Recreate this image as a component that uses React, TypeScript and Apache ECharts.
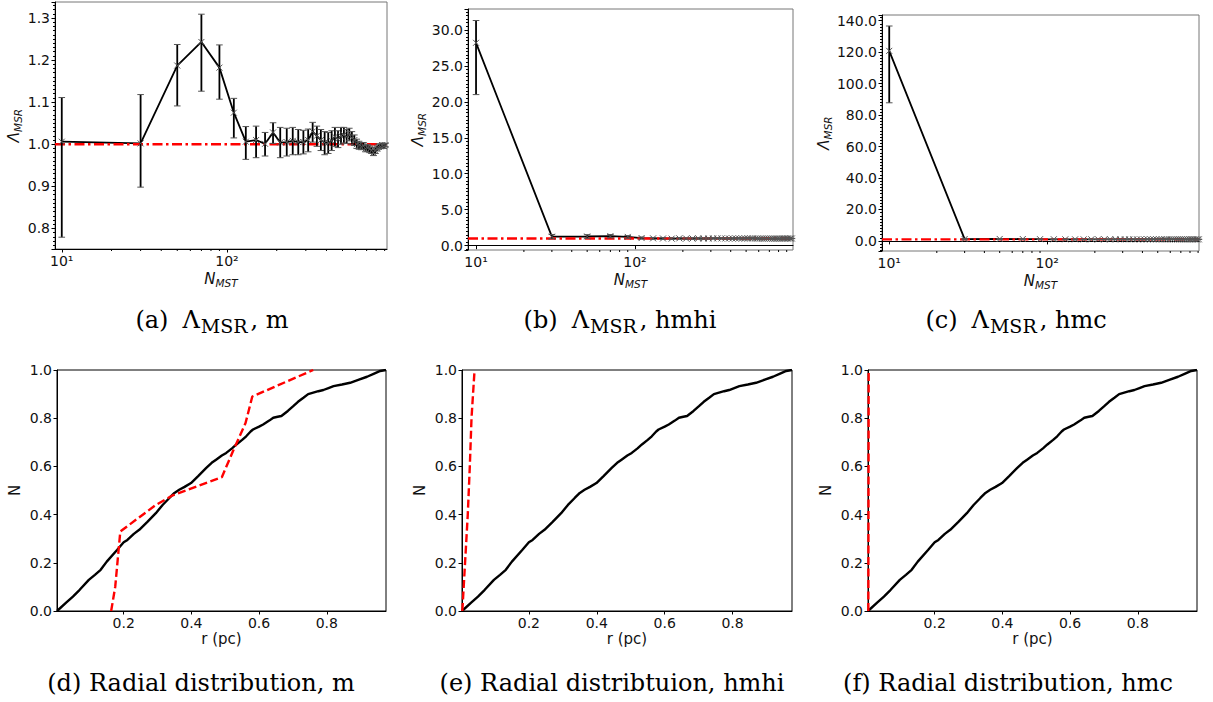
import React, { useEffect, useRef } from 'react';
import * as echarts from 'echarts';

// ---------- data: top row, Lambda_MSR vs N_MST ----------
const N_A = [10, 30, 50, 70, 90, 110, 130, 150, 170, 190, 210, 230, 250, 270, 290, 310, 330, 350, 370, 390, 410, 430, 450, 470, 490, 510, 530, 550, 570, 590, 610, 630, 650, 670, 690, 710, 730, 750, 770, 790, 810, 830, 850, 870, 890, 910];
const LAMBDA_A = [1.006, 1.002, 1.187, 1.243, 1.182, 1.075, 1.006, 1.010, 1.001, 1.028, 1.004, 1.005, 1.008, 1.005, 1.005, 1.010, 1.030, 1.020, 1.010, 1.004, 1.003, 1.008, 1.018, 1.012, 1.020, 1.022, 1.018, 1.024, 1.015, 1.010, 1.000, 0.997, 0.995, 0.996, 0.990, 0.991, 0.988, 0.985, 0.980, 0.985, 0.990, 0.994, 0.995, 0.998, 0.995, 0.998];
const LO_A = [0.779, 0.898, 1.091, 1.126, 1.107, 1.015, 0.964, 0.968, 0.972, 1.002, 0.968, 0.972, 0.975, 0.975, 0.977, 0.982, 1.005, 0.995, 0.985, 0.975, 0.978, 0.985, 0.995, 0.992, 1.000, 1.003, 1.002, 1.008, 1.000, 0.997, 0.990, 0.988, 0.987, 0.988, 0.982, 0.983, 0.980, 0.978, 0.973, 0.978, 0.984, 0.988, 0.990, 0.993, 0.990, 0.994];
const HI_A = [1.111, 1.118, 1.237, 1.309, 1.236, 1.109, 1.042, 1.043, 1.028, 1.051, 1.040, 1.038, 1.040, 1.035, 1.033, 1.036, 1.052, 1.043, 1.035, 1.030, 1.028, 1.032, 1.040, 1.032, 1.040, 1.040, 1.035, 1.038, 1.030, 1.022, 1.012, 1.007, 1.004, 1.004, 0.998, 0.999, 0.996, 0.993, 0.987, 0.992, 0.996, 1.000, 1.001, 1.003, 1.000, 1.002];

const N_B = [10, 30, 50, 70, 90, 110, 130, 150, 170, 190, 210, 230, 250, 270, 290, 310, 330, 350, 370, 390, 410, 430, 450, 470, 490, 510, 530, 550, 570, 590, 610, 630, 650, 670, 690, 710, 730, 750, 770, 790, 810, 830, 850, 870, 890, 910, 930, 950, 970];
const LAMBDA_B = [28.2, 1.25, 1.28, 1.33, 1.22, 1.06, 1.02, 1.0, 0.98, 1.02, 0.99, 1.0, 1.01, 0.99, 1.0, 1.01, 1.02, 1.01, 1.0, 1.0, 1.0, 1.01, 1.01, 1.0, 1.01, 1.02, 1.01, 1.01, 1.0, 1.0, 0.99, 0.99, 0.99, 1.0, 0.99, 0.99, 0.98, 0.98, 0.98, 0.99, 0.99, 0.99, 1.0, 1.0, 1.0, 1.0, 1.0, 1.0, 1.0];
const ERR_DOWN_B = [7.2, 0.30, 0.25, 0.22, 0.18, 0.15, 0.12, 0.11, 0.10, 0.10, 0.09, 0.09, 0.08, 0.08, 0.08, 0.07, 0.07, 0.07, 0.06, 0.06, 0.06, 0.06, 0.05, 0.05, 0.05, 0.05, 0.05, 0.04, 0.04, 0.04, 0.04, 0.04, 0.03, 0.03, 0.03, 0.03, 0.03, 0.03, 0.03, 0.02, 0.02, 0.02, 0.02, 0.02, 0.02, 0.02, 0.02, 0.02, 0.02];
const ERR_UP_B = [3.1, 0.30, 0.25, 0.22, 0.18, 0.15, 0.12, 0.11, 0.10, 0.10, 0.09, 0.09, 0.08, 0.08, 0.08, 0.07, 0.07, 0.07, 0.06, 0.06, 0.06, 0.06, 0.05, 0.05, 0.05, 0.05, 0.05, 0.04, 0.04, 0.04, 0.04, 0.04, 0.03, 0.03, 0.03, 0.03, 0.03, 0.03, 0.03, 0.02, 0.02, 0.02, 0.02, 0.02, 0.02, 0.02, 0.02, 0.02, 0.02];

const N_C = [10, 30, 50, 70, 90, 110, 130, 150, 170, 190, 210, 230, 250, 270, 290, 310, 330, 350, 370, 390, 410, 430, 450, 470, 490, 510, 530, 550, 570, 590, 610, 630, 650, 670, 690, 710, 730, 750, 770, 790, 810, 830, 850, 870, 890, 910];
const LAMBDA_C = [120.8, 1.2, 1.25, 1.2, 1.1, 1.05, 1.02, 1.0, 0.99, 1.02, 1.0, 1.0, 1.01, 1.0, 1.0, 1.01, 1.02, 1.01, 1.0, 1.0, 1.0, 1.01, 1.01, 1.0, 1.01, 1.01, 1.01, 1.01, 1.0, 1.0, 0.99, 0.99, 0.99, 1.0, 0.99, 0.99, 0.98, 0.98, 0.98, 0.99, 0.99, 0.99, 1.0, 1.0, 1.0, 1.0];
const ERR_DOWN_C = [33.0, 0.40, 0.30, 0.25, 0.20, 0.15, 0.12, 0.11, 0.10, 0.10, 0.09, 0.09, 0.08, 0.08, 0.08, 0.07, 0.07, 0.07, 0.06, 0.06, 0.06, 0.06, 0.05, 0.05, 0.05, 0.05, 0.05, 0.04, 0.04, 0.04, 0.04, 0.04, 0.03, 0.03, 0.03, 0.03, 0.03, 0.03, 0.03, 0.02, 0.02, 0.02, 0.02, 0.02, 0.02, 0.02];
const ERR_UP_C = [15.8, 0.40, 0.30, 0.25, 0.20, 0.15, 0.12, 0.11, 0.10, 0.10, 0.09, 0.09, 0.08, 0.08, 0.08, 0.07, 0.07, 0.07, 0.06, 0.06, 0.06, 0.06, 0.05, 0.05, 0.05, 0.05, 0.05, 0.04, 0.04, 0.04, 0.04, 0.04, 0.03, 0.03, 0.03, 0.03, 0.03, 0.03, 0.03, 0.02, 0.02, 0.02, 0.02, 0.02, 0.02, 0.02];

const LAMBDA_REF = 1.0;
const LOG_MINOR_TICKS = [20, 30, 40, 50, 60, 70, 80, 90, 200, 300, 400, 500, 600, 700, 800, 900];

// ---------- data: bottom row, cumulative radial distribution ----------
const R_ALL = [0.003, 0.03, 0.05, 0.07, 0.097, 0.115, 0.132, 0.15, 0.181, 0.2, 0.211, 0.23, 0.246, 0.27, 0.295, 0.315, 0.335, 0.35, 0.364, 0.38, 0.399, 0.42, 0.444, 0.46, 0.473, 0.49, 0.503, 0.52, 0.533, 0.55, 0.562, 0.575, 0.582, 0.6, 0.612, 0.63, 0.642, 0.655, 0.666, 0.685, 0.701, 0.715, 0.731, 0.745, 0.76, 0.775, 0.79, 0.805, 0.82, 0.845, 0.869, 0.895, 0.919, 0.94, 0.958, 0.975];
const N_ALL = [0, 0.035, 0.06, 0.088, 0.129, 0.15, 0.171, 0.205, 0.254, 0.285, 0.295, 0.32, 0.337, 0.37, 0.406, 0.44, 0.469, 0.49, 0.503, 0.515, 0.531, 0.56, 0.594, 0.615, 0.628, 0.645, 0.656, 0.675, 0.691, 0.71, 0.725, 0.745, 0.753, 0.765, 0.774, 0.79, 0.802, 0.806, 0.809, 0.83, 0.85, 0.868, 0.885, 0.9, 0.906, 0.912, 0.917, 0.925, 0.933, 0.94, 0.947, 0.96, 0.972, 0.985, 0.996, 1.0];

const R_M = [0.163, 0.175, 0.19, 0.295, 0.345, 0.49, 0.525, 0.56, 0.58, 0.76];
const N_M = [0, 0.1, 0.33, 0.44, 0.48, 0.555, 0.67, 0.78, 0.89, 1.0];
const R_HMHI = [0.004, 0.012, 0.02, 0.026, 0.031, 0.04];
const N_HMHI = [0, 0.2, 0.4, 0.6, 0.8, 1.0];
const R_HMC = [0.004, 0.0045, 0.005];
const N_HMC = [0, 0.5, 1.0];

const CAPTIONS_TOP = ['(a)', '(b)', '(c)'];
const CAPTIONS_TOP_TAIL = [', m', ', hmhi', ', hmc'];
const CAPTIONS_BOTTOM = ['(d) Radial distribution, m', '(e) Radial distribtuion, hmhi', '(f) Radial distribution, hmc'];

const FONT = 'DejaVu Sans';
const TXT = '#111';

function errorBarRenderer(params: any, api: any) {
  const x = api.value(0);
  const y = api.value(1);
  const lo = api.value(2);
  const hi = api.value(3);
  const pc = api.coord([x, y]);
  const pl = api.coord([x, lo]);
  const ph = api.coord([x, hi]);
  const cap = 3.3;
  const m = 3;
  return {
    type: 'group',
    children: [
      { type: 'line', shape: { x1: pc[0], y1: pl[1], x2: pc[0], y2: ph[1] }, style: { stroke: '#000', lineWidth: 1.8 } },
      { type: 'line', shape: { x1: pc[0] - cap, y1: pl[1], x2: pc[0] + cap, y2: pl[1] }, style: { stroke: '#555', lineWidth: 1 } },
      { type: 'line', shape: { x1: pc[0] - cap, y1: ph[1], x2: pc[0] + cap, y2: ph[1] }, style: { stroke: '#555', lineWidth: 1 } },
      { type: 'line', shape: { x1: pc[0] - m, y1: pc[1] - m, x2: pc[0] + m, y2: pc[1] + m }, style: { stroke: '#555', lineWidth: 1 } },
      { type: 'line', shape: { x1: pc[0] - m, y1: pc[1] + m, x2: pc[0] + m, y2: pc[1] - m }, style: { stroke: '#555', lineWidth: 1 } },
    ],
  };
}

function minorTickRenderer(params: any, api: any) {
  const p = api.coord([api.value(0), api.value(1)]);
  const cs = params.coordSys;
  const bottom = cs.y + cs.height;
  return {
    type: 'line',
    shape: { x1: p[0], y1: bottom, x2: p[0], y2: bottom + 2 },
    style: { stroke: '#000', lineWidth: 1 },
  };
}

const nameRich = {
  m: { fontSize: 15, fontStyle: 'italic', fontFamily: FONT, color: TXT },
  s: { fontSize: 10.5, fontStyle: 'italic', fontFamily: FONT, color: TXT, padding: [8, 0, 0, 0] },
};

function supLabel(v: number) {
  const e = Math.log10(v);
  if (Math.abs(e - 1) < 1e-6) return '10¹';
  if (Math.abs(e - 2) < 1e-6) return '10²';
  return '';
}

type TopSpec = {
  grid: any; N: number[]; V: number[]; lo: number[]; hi: number[];
  xmin: number; xmax: number; ymin: number; ymax: number; yNameGap: number;
};

function App() {
  const ref = useRef<HTMLDivElement>(null);
  useEffect(() => {
    if (!ref.current) return;
    const chart = echarts.init(ref.current, null, { renderer: 'svg' });

    const tops: TopSpec[] = [
      { grid: { left: 55, top: 2, width: 332, height: 247 }, N: N_A, V: LAMBDA_A, lo: LO_A, hi: HI_A, xmin: 9.1, xmax: 930, ymin: 0.751, ymax: 1.338, yNameGap: 32 },
      { grid: { left: 468, top: 9, width: 325, height: 241 }, N: N_B, V: LAMBDA_B, lo: LAMBDA_B.map((v, i) => v - ERR_DOWN_B[i]), hi: LAMBDA_B.map((v, i) => v + ERR_UP_B[i]), xmin: 8.9, xmax: 986, ymin: -0.6, ymax: 32.9, yNameGap: 40 },
      { grid: { left: 882, top: 15, width: 317, height: 236 }, N: N_C, V: LAMBDA_C, lo: LAMBDA_C.map((v, i) => v - ERR_DOWN_C[i]), hi: LAMBDA_C.map((v, i) => v + ERR_UP_C[i]), xmin: 9.0, xmax: 912, ymin: -6.4, ymax: 143.6, yNameGap: 49 },
    ];
    const bottoms = [
      { grid: { left: 57, top: 370, width: 329, height: 241 }, R: R_M, F: N_M },
      { grid: { left: 462, top: 370, width: 330, height: 241 }, R: R_HMHI, F: N_HMHI },
      { grid: { left: 868, top: 370, width: 329, height: 241 }, R: R_HMC, F: N_HMC },
    ];

    const grid: any[] = [];
    const xAxis: any[] = [];
    const yAxis: any[] = [];
    const series: any[] = [];

    tops.forEach((t, i) => {
      grid.push({ ...t.grid, show: true, borderColor: '#777', borderWidth: 1, backgroundColor: '#fff' });
      xAxis.push({
        type: 'log', logBase: 10, gridIndex: i, min: t.xmin, max: t.xmax,
        axisLine: { show: true, lineStyle: { color: '#000', width: 1 } },
        axisTick: { show: true, length: 3.5, lineStyle: { color: '#000' } },
        splitLine: { show: false },
        axisLabel: { formatter: supLabel, showMinLabel: false, showMaxLabel: false, fontSize: 14, fontFamily: FONT, color: TXT, margin: 5 },
        name: '{m|N}{s|MST}', nameLocation: 'middle', nameGap: 20,
        nameTextStyle: { rich: nameRich },
      });
      yAxis.push({
        type: 'value', gridIndex: i, min: t.ymin, max: t.ymax, splitNumber: 7,
        axisLine: { show: true, lineStyle: { color: '#000', width: 1 } },
        axisTick: { show: true, length: 3.5, lineStyle: { color: '#000' } },
        minorTick: { show: true, splitNumber: 10, length: 2, lineStyle: { color: '#000', width: 1 } },
        splitLine: { show: false },
        axisLabel: { formatter: (v: number) => v.toFixed(1), showMinLabel: false, showMaxLabel: false, fontSize: 14, fontFamily: FONT, color: TXT, margin: 5 },
        name: '{m|Λ}{s|MSR}', nameLocation: 'middle', nameRotate: 90, nameGap: t.yNameGap,
        nameTextStyle: { rich: nameRich },
      });
      series.push({
        type: 'line', xAxisIndex: i, yAxisIndex: i, showSymbol: false, z: 2,
        data: t.N.map((n, k) => [n, t.V[k]]),
        lineStyle: { color: '#000', width: 1.8 },
      });
      series.push({
        type: 'line', xAxisIndex: i, yAxisIndex: i, showSymbol: false, z: 3,
        data: [[t.xmin, LAMBDA_REF], [t.xmax, LAMBDA_REF]],
        lineStyle: { color: '#ff0000', width: 2.4, type: [10, 3.5, 2.5, 3.5] },
      });
      series.push({
        type: 'custom', xAxisIndex: i, yAxisIndex: i, z: 4,
        data: t.N.map((n, k) => [n, t.V[k], t.lo[k], t.hi[k]]),
        encode: { x: 0, y: 1 },
        renderItem: errorBarRenderer,
      });
      series.push({
        type: 'custom', xAxisIndex: i, yAxisIndex: i, z: 5, clip: false, silent: true,
        data: LOG_MINOR_TICKS.filter((v) => v > t.xmin && v < t.xmax).map((v) => [v, t.ymin]),
        encode: { x: 0, y: 1 },
        renderItem: minorTickRenderer,
      });
    });

    bottoms.forEach((b, j) => {
      const i = j + 3;
      grid.push({ ...b.grid, show: true, borderColor: '#000', borderWidth: 1, backgroundColor: '#fff' });
      xAxis.push({
        type: 'value', gridIndex: i, min: 0.003, max: 0.975, splitNumber: 5,
        axisLine: { show: true, lineStyle: { color: '#000', width: 1 } },
        axisTick: { show: true, length: 3.5, lineStyle: { color: '#000' } },
        splitLine: { show: false },
        axisLabel: { formatter: (v: number) => v.toFixed(1), showMinLabel: false, showMaxLabel: false, fontSize: 14, fontFamily: FONT, color: TXT, margin: 5 },
        name: 'r (pc)', nameLocation: 'middle', nameGap: 20,
        nameTextStyle: { fontSize: 15, fontFamily: FONT, color: TXT },
      });
      yAxis.push({
        type: 'value', gridIndex: i, min: 0, max: 1, interval: 0.2,
        axisLine: { show: true, lineStyle: { color: '#000', width: 1 } },
        axisTick: { show: true, length: 3.5, lineStyle: { color: '#000' } },
        splitLine: { show: false },
        axisLabel: { formatter: (v: number) => v.toFixed(1), fontSize: 14, fontFamily: FONT, color: TXT, margin: 5 },
        name: 'N', nameLocation: 'middle', nameRotate: 90, nameGap: 35,
        nameTextStyle: { fontSize: 15, fontFamily: FONT, color: TXT },
      });
      series.push({
        type: 'line', xAxisIndex: i, yAxisIndex: i, showSymbol: false, z: 2,
        data: R_ALL.map((r, k) => [r, N_ALL[k]]),
        lineStyle: { color: '#000', width: 2.4 },
      });
      series.push({
        type: 'line', xAxisIndex: i, yAxisIndex: i, showSymbol: false, z: 3,
        data: b.R.map((r, k) => [r, b.F[k]]),
        lineStyle: { color: '#ff0000', width: 2.4, type: [8, 3.5] },
      });
    });

    const capFont = 'DejaVu Serif';
    const topCentres = [212, 620, 1016];
    const bottomCentres = [201, 612, 1008];
    const graphic: any[] = [];
    CAPTIONS_TOP.forEach((c, k) => {
      graphic.push({
        type: 'text', x: topCentres[k], y: 320, z: 10,
        style: {
          text: `{a|${c}}{g| }{a|Λ}{s|MSR}{a|${CAPTIONS_TOP_TAIL[k]}}`,
          align: 'center', verticalAlign: 'middle',
          rich: {
            a: { fontSize: 24, fontFamily: capFont, fill: '#000' },
            g: { fontSize: 24, fontFamily: capFont, fill: '#000', width: 14 },
            s: { fontSize: 19, fontFamily: capFont, fill: '#000', padding: [12, 3, 0, 1] },
          },
        },
      });
    });
    CAPTIONS_BOTTOM.forEach((c, k) => {
      graphic.push({
        type: 'text', x: bottomCentres[k], y: 683, z: 10,
        style: { text: c, align: 'center', verticalAlign: 'middle', fontSize: 24, fontFamily: capFont, fill: '#000' },
      });
    });

    chart.setOption({
      animation: false,
      backgroundColor: '#fff',
      grid, xAxis, yAxis, series, graphic,
    });
    return () => chart.dispose();
  }, []);

  return <div ref={ref} style={{ position: 'absolute', left: 0, top: 0, width: 1213, height: 702 }} />;
}

export default App;
